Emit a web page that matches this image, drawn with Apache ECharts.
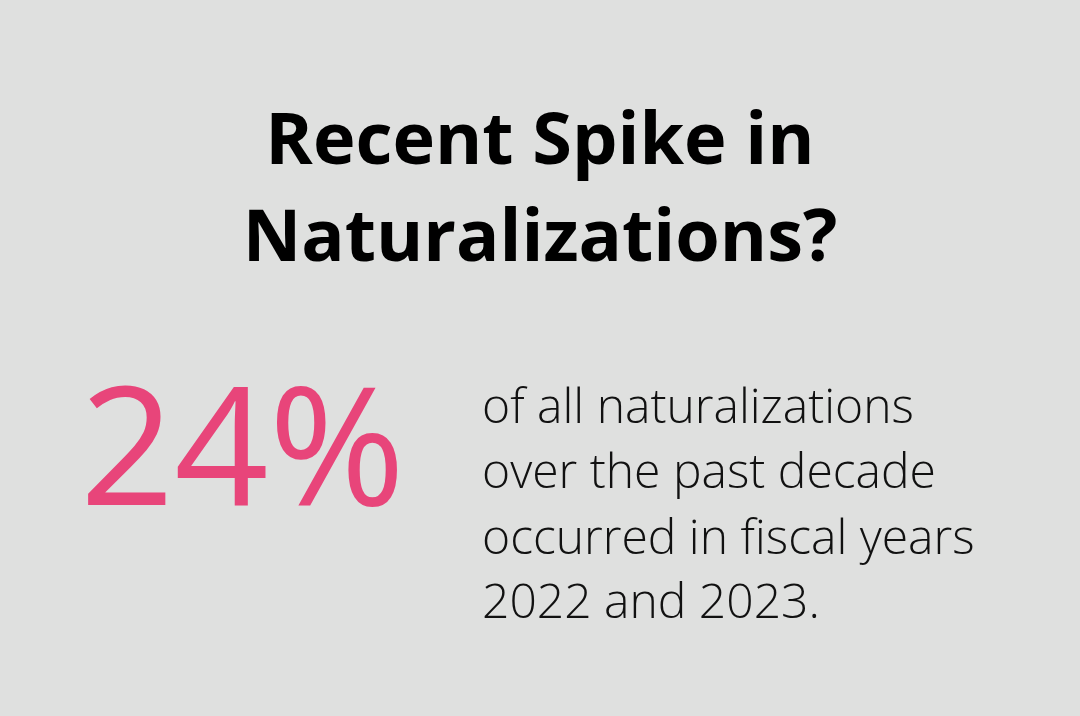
<!DOCTYPE html>
<html><head><meta charset="utf-8">
<script src="https://cdn.jsdelivr.net/npm/echarts@6/dist/echarts.min.js"></script>
<style>html,body{margin:0;padding:0;background:#dfe0df}#c{width:1080px;height:716px}</style>
</head><body><div id="c"></div>
<script>
const titleLines = ["Recent Spike in", "Naturalizations?"];
const statValue = ["24%"];
const bodyLines = ["of all naturalizations", "over the past decade", "occurred in fiscal years", "2022 and 2023."];

const chart = echarts.init(document.getElementById('c'));
const els = [];
const titleY = [143, 240];
titleLines.forEach((t, i) => els.push({type:'text', x:540, y:titleY[i], style:{text:t, fill:'#000', font:'bold 72px "Open Sans"', textAlign:'center', textVerticalAlign:'middle'}}));
statValue.forEach(t => els.push({type:'text', x:80, y:458, style:{text:t, fill:'#e8457a', font:'165px "Open Sans"', textAlign:'left', textVerticalAlign:'middle'}}));
const bodyY = [409, 474, 540, 604];
bodyLines.forEach((t, i) => els.push({type:'text', x:482, y:bodyY[i], style:{text:t, fill:'#111', font:'300 48px "Open Sans"', textAlign:'left', textVerticalAlign:'middle'}}));
chart.setOption({backgroundColor:'#dfe0df', graphic:{elements:els}});
</script></body></html>
